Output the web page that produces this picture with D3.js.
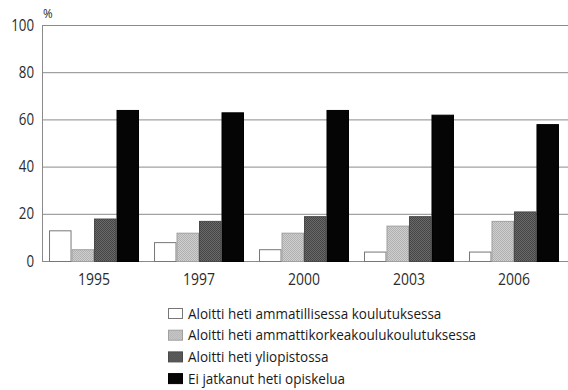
<!DOCTYPE html>
<html>
<head>
<meta charset="utf-8">
<script src="https://cdn.jsdelivr.net/npm/d3@7"></script>
<style>
  html, body { margin: 0; padding: 0; background: #fff; }
  svg { display: block; font-family: "Open Sans", sans-serif; }
</style>
</head>
<body>
<svg id="chart" width="568" height="390"></svg>
<script>
// Years and shares (%) of each post-school path
const years = ["1995", "1997", "2000", "2003", "2006"];
const seriesNames = [
  "Aloitti heti ammatillisessa koulutuksessa",
  "Aloitti heti ammattikorkeakoulukoulutuksessa",
  "Aloitti heti yliopistossa",
  "Ei jatkanut heti opiskelua"
];
const vocational = [13, 8, 5, 4, 4];
const polytechnic = [5, 12, 12, 15, 17];
const university = [18, 17, 19, 19, 21];
const noStudy = [64, 63, 64, 62, 58];
const yTicks = [0, 20, 40, 60, 80, 100];

const seriesValues = [vocational, polytechnic, university, noStudy];

const svg = d3.select("#chart");

// fine dotted screens for the two grey series
const defs = svg.append("defs");
function screen(id, base, dot) {
  const p = defs.append("pattern").attr("id", id).attr("patternUnits", "userSpaceOnUse")
    .attr("width", 2).attr("height", 2);
  p.append("rect").attr("width", 2).attr("height", 2).attr("fill", base);
  p.append("rect").attr("width", 1).attr("height", 1).attr("fill", dot);
  p.append("rect").attr("x", 1).attr("y", 1).attr("width", 1).attr("height", 1).attr("fill", dot);
}
screen("scrLight", "#cfcfcf", "#b0b0b0");
screen("scrDark", "#6a6a6a", "#454545");

const fills = ["#ffffff", "url(#scrLight)", "url(#scrDark)", "#050505"];
const swatchFills = ["#ffffff", "url(#scrLight)", "url(#scrDark)", "#050505"];
const strokes = ["#777", "#a0a0a0", "#4a4a4a", "#000"];

const plotLeft = 42, plotRight = 566, plotTop = 25, plotBottom = 261;

const x = d3.scaleBand().domain(years).range([plotLeft, plotRight])
  .paddingInner(0.143).paddingOuter(0.067);
const xs = d3.scaleBand().domain(d3.range(seriesNames.length))
  .range([0, x.bandwidth()]);
const y = d3.scaleLinear().domain([0, 100]).range([plotBottom, plotTop]);

// gridlines
svg.append("g").selectAll("line").data(yTicks).join("line")
  .attr("x1", plotLeft).attr("x2", 568)
  .attr("y1", d => y(d) + 0.5).attr("y2", d => y(d) + 0.5)
  .attr("stroke", "#8a8a8a").attr("stroke-width", 1);

// left axis line
svg.append("line").attr("x1", plotLeft + 0.5).attr("x2", plotLeft + 0.5)
  .attr("y1", y(100)).attr("y2", y(0) + 1)
  .attr("stroke", "#8a8a8a");

// y tick labels (slightly condensed)
svg.append("g").selectAll("text").data(yTicks).join("text")
  .attr("transform", d => `translate(${plotLeft - 8},${y(d) + 5.5}) scale(0.86,1)`)
  .attr("text-anchor", "end").attr("font-size", 15.5).attr("fill", "#2a2a2a")
  .text(d => d);

svg.append("text").attr("transform", `translate(${plotLeft + 1},18) scale(0.9,1)`)
  .attr("font-size", 13).attr("fill", "#2a2a2a").text("%");

// bars
seriesValues.forEach((vals, s) => {
  svg.append("g").selectAll("rect").data(vals).join("rect")
    .attr("x", (d, i) => x(years[i]) + xs(s) + 0.5)
    .attr("y", d => y(d) + 0.5)
    .attr("width", xs.bandwidth() - 1)
    .attr("height", d => y(0) - y(d))
    .attr("fill", fills[s]).attr("stroke", strokes[s]).attr("stroke-width", 1);
});

// x labels
svg.append("g").selectAll("text").data(years).join("text")
  .attr("transform", d => `translate(${x(d) + x.bandwidth() / 2},285) scale(0.9,1)`)
  .attr("text-anchor", "middle").attr("font-size", 15.5).attr("fill", "#2a2a2a")
  .text(d => d);

// legend
const lg = svg.append("g").attr("transform", "translate(168,308)");
seriesNames.forEach((name, i) => {
  const row = lg.append("g").attr("transform", `translate(0,${i * 21.7})`);
  row.append("rect").attr("x", 0.5).attr("y", 0.5).attr("width", 14).attr("height", 10)
    .attr("fill", swatchFills[i]).attr("stroke", strokes[i]);
  row.append("text").attr("transform", "translate(20,10.5) scale(0.93,1)")
    .attr("font-size", 14.5).attr("fill", "#1a1a1a").text(name);
});
</script>
</body>
</html>
